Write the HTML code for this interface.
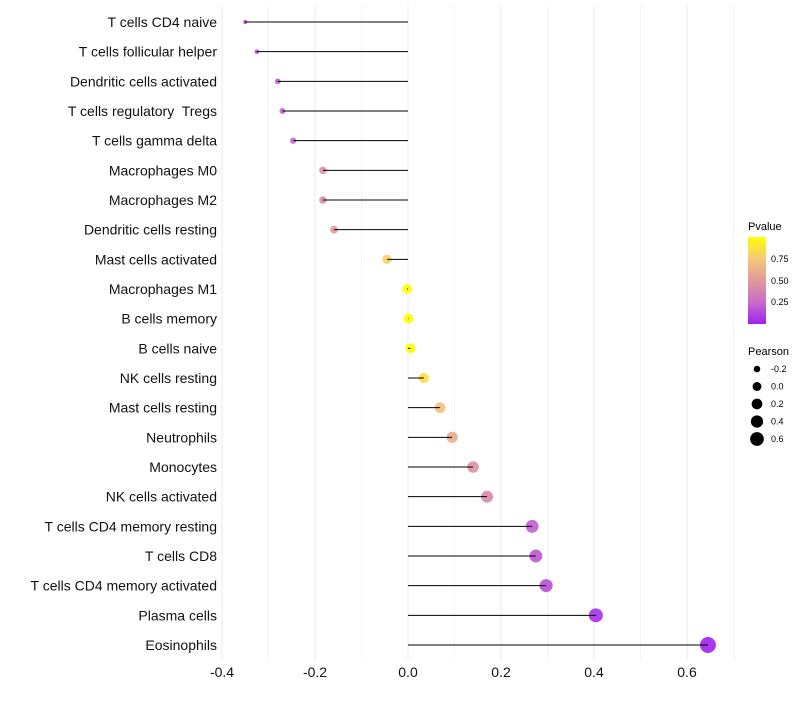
<!DOCTYPE html>
<html><head><meta charset="utf-8"><style>
body{margin:0;background:#fff;font-family:"Liberation Sans",sans-serif}
text{white-space:pre}
</style></head><body>
<svg id="chart" width="800" height="700" xmlns="http://www.w3.org/2000/svg" font-family="Liberation Sans, sans-serif">
<defs><linearGradient id="pg" x1="0" y1="1" x2="0" y2="0">
<stop offset="0" stop-color="#a020f0"/><stop offset="0.25" stop-color="#c96cc8"/><stop offset="0.5" stop-color="#e09a9a"/><stop offset="0.75" stop-color="#f5c878"/><stop offset="1" stop-color="#ffff00"/></linearGradient></defs>
<g id="grid"></g><g id="marks"></g><g id="labels"></g>
<g>
<text x="748" y="230" font-size="11">Pvalue</text>
<rect x="748" y="237" width="18" height="87" fill="url(#pg)"/>
<text x="771" y="262" font-size="9">0.75</text>
<text x="771" y="284" font-size="9">0.50</text>
<text x="771" y="305" font-size="9">0.25</text>
</g>
<g id="sleg">
<text x="748" y="355" font-size="11">Pearson</text>
</g>
</svg>
<script>
const categories=["T cells CD4 naive","T cells follicular helper","Dendritic cells activated","T cells regulatory  Tregs","T cells gamma delta","Macrophages M0","Macrophages M2","Dendritic cells resting","Mast cells activated","Macrophages M1","B cells memory","B cells naive","NK cells resting","Mast cells resting","Neutrophils","Monocytes","NK cells activated","T cells CD4 memory resting","T cells CD8","T cells CD4 memory activated","Plasma cells","Eosinophils"];
const pearson=[-0.35,-0.325,-0.28,-0.27,-0.247,-0.183,-0.183,-0.159,-0.045,-0.002,0.001,0.005,0.034,0.069,0.095,0.14,0.17,0.267,0.275,0.297,0.404,0.645];
const pvalue=[0.1,0.15,0.2,0.22,0.25,0.45,0.45,0.5,0.8,0.99,0.99,0.98,0.85,0.7,0.6,0.45,0.4,0.2,0.18,0.15,0.05,0.001];
const xTicks=[-0.4,-0.2,0,0.2,0.4,0.6];
const xTickLabels=["-0.4","-0.2","0.0","0.2","0.4","0.6"];
const sizeLegend=[-0.2,0,0.2,0.4,0.6];
const NS="http://www.w3.org/2000/svg";
const x=v=>408+v*465;
const y=i=>22+i*(623/(categories.length-1));
const r=v=>Math.sqrt(Math.max(1,4+(v+0.35)*60));
const rl=v=>Math.sqrt(Math.max(1,4+(v+0.35)*45));
const stops=[[0,[160,32,240]],[0.25,[201,108,200]],[0.5,[224,154,154]],[0.75,[245,200,120]],[1,[255,255,0]]];
function col(p){for(let k=0;k<stops.length-1;k++){const[a,ca]=stops[k],[b,cb]=stops[k+1];if(p<=b){const t=(p-a)/(b-a);return"rgb("+ca.map((c,j)=>Math.round(c+(cb[j]-c)*t)).join(",")+")";}}return"rgb(255,255,0)";}
function mk(t,a,parent){const e=document.createElementNS(NS,t);for(const k in a)e.setAttribute(k,a[k]);parent.appendChild(e);return e;}
const G=document.getElementById("grid"),M=document.getElementById("marks"),L=document.getElementById("labels");
for(let v=-0.4;v<=0.701;v+=0.1){const l=mk("line",{x1:x(v),x2:x(v),y1:5,y2:660,stroke:"#ebebeb","stroke-width":Math.abs(Math.round(v*10))%2==0?1:0.6},G);

}
xTicks.forEach((v,i)=>{const t=mk("text",{x:x(v),y:677,"font-size":14,"text-anchor":"middle",fill:"#111"},L);t.textContent=xTickLabels[i];

});
categories.forEach((c,i)=>{
const t=mk("text",{x:217,y:y(i)+5,"font-size":14,"text-anchor":"end",fill:"#111","xml:space":"preserve"},L);t.textContent=c;


const p=mk("circle",{cx:x(pearson[i]),cy:y(i),r:r(pearson[i]),fill:col(pvalue[i]),"fill-opacity":0.9},M);


const s=mk("line",{x1:x(0),x2:x(pearson[i]),y1:y(i),y2:y(i),stroke:"#000","stroke-width":1},M);


});
const SL=document.getElementById("sleg");
sizeLegend.forEach((v,i)=>{const cy=369+i*17.5;
const c=mk("circle",{cx:757,cy:cy,r:rl(v),fill:"#000"},SL);


const t=mk("text",{x:771,y:cy+3,"font-size":9},SL);t.textContent=v==0?"0.0":v.toFixed(1);

});
</script>
</body></html>
